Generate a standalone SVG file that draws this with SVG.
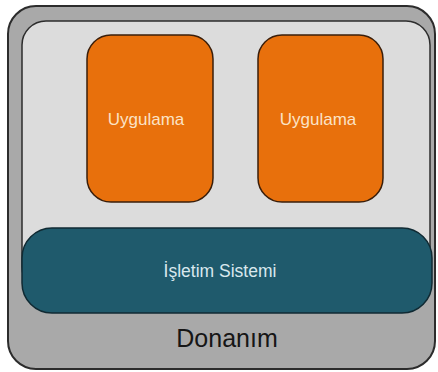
<svg xmlns="http://www.w3.org/2000/svg" width="438" height="372" viewBox="0 0 438 372">
  <style>
    .app { fill: #e8700c; stroke: #3a1e0a; stroke-width: 1.5; }
    .app-label { font-family: "Liberation Sans", Arial, sans-serif; font-size: 17px; fill: #fbe3c6; text-anchor: middle; }
    .os-label { font-family: "Liberation Sans", Arial, sans-serif; font-size: 17.5px; fill: #d9e8ee; text-anchor: middle; }
    .hw-label { font-family: "Liberation Sans", Arial, sans-serif; font-size: 25px; fill: #161616; text-anchor: middle; }
  </style>
  <rect width="438" height="372" fill="#ffffff"/>

  <!-- hardware layer -->
  <g id="donanim">
    <rect x="8" y="6" width="427" height="363" rx="28" fill="#a9a9a9" stroke="#2c2c2c" stroke-width="2"/>
    <rect x="22" y="21" width="408" height="270" rx="24" fill="#dcdcdc" stroke="#2c2c2c" stroke-width="1.5"/>
    <text class="hw-label" x="227" y="347">Donanım</text>
  </g>

  <!-- applications -->
  <g id="uygulama-1">
    <rect class="app" x="87" y="35" width="126" height="167" rx="24"/>
    <text class="app-label" x="146" y="125">Uygulama</text>
  </g>
  <g id="uygulama-2">
    <rect class="app" x="258" y="35" width="125" height="167" rx="24"/>
    <text class="app-label" x="318" y="125">Uygulama</text>
  </g>

  <!-- operating system -->
  <g id="isletim-sistemi">
    <rect x="22" y="228" width="410" height="85" rx="30" fill="#1f5a6c" stroke="#102a33" stroke-width="1.5"/>
    <text class="os-label" x="220" y="277">İşletim Sistemi</text>
  </g>

  <g id="connectors"/>
</svg>
